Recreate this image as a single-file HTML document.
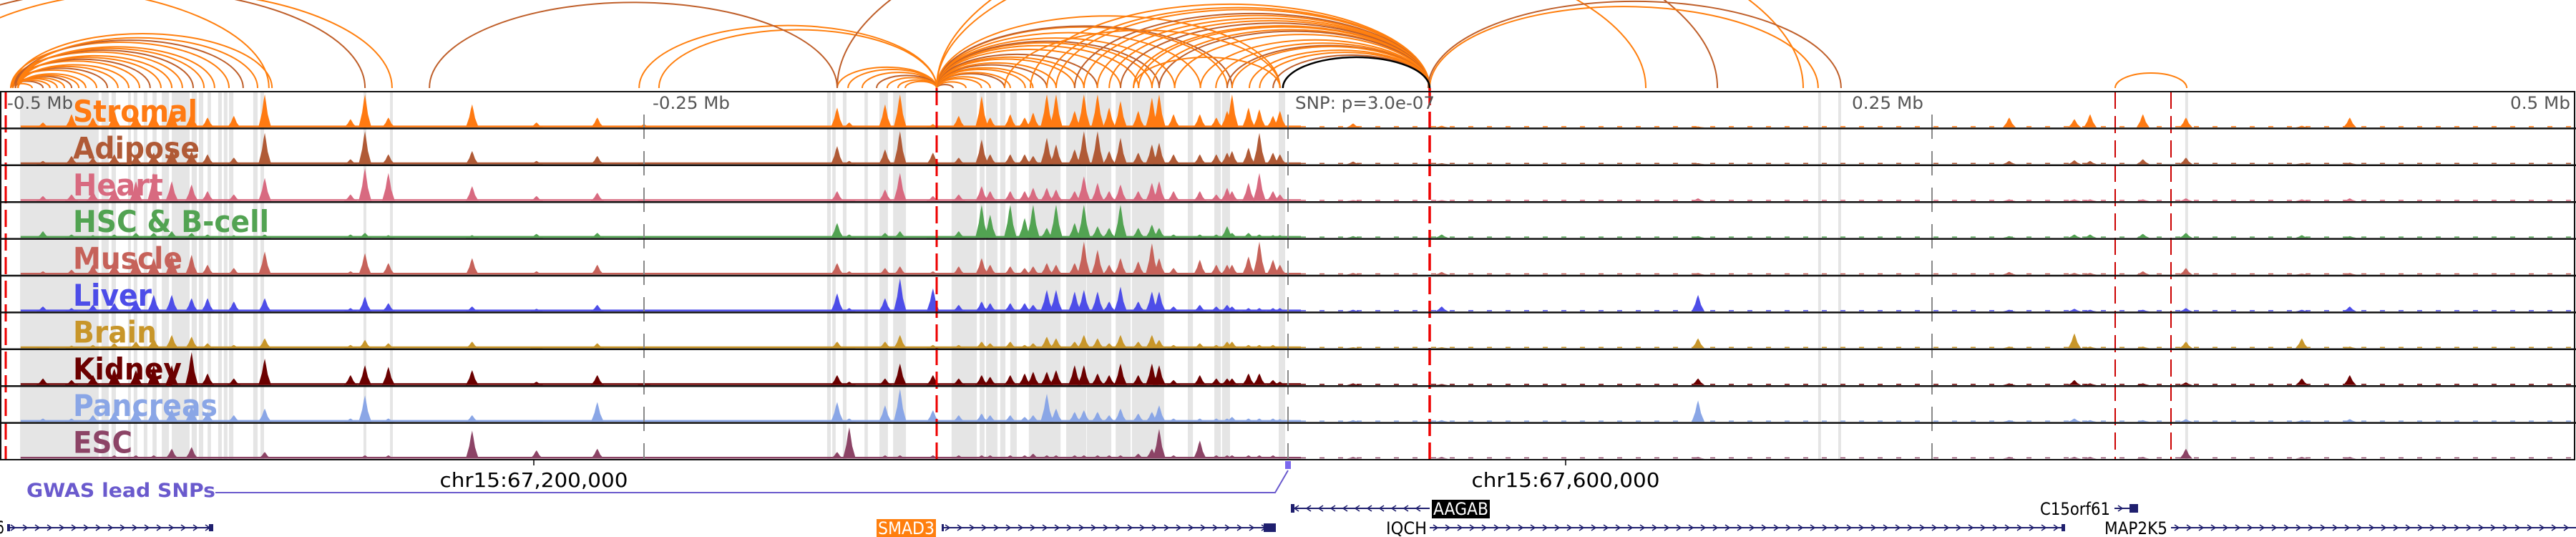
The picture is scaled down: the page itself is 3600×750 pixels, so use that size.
<!DOCTYPE html>
<html><head><meta charset="utf-8"><title>Genome browser chr15 SMAD3 locus</title>
<style>
html,body{margin:0;padding:0;background:#fff;}
svg{display:block;font-family:"DejaVu Sans","Liberation Sans",sans-serif;}
</style></head>
<body>
<svg id="fig" width="3600" height="750" viewBox="0 0 3600 750" xmlns="http://www.w3.org/2000/svg">
  <g id="bands"></g>
  <g id="signals"></g>
  <g id="arcs"></g>
  <g id="vlines"></g>
  <g id="frame"></g>
  <g id="labels"></g>
  <g id="axis">
    <text x="10" y="152" font-size="24" fill="#555" textLength="92" lengthAdjust="spacingAndGlyphs">-0.5 Mb</text>
    <text x="912" y="152" font-size="24" fill="#555" textLength="108" lengthAdjust="spacingAndGlyphs">-0.25 Mb</text>
    <text x="1810" y="152" font-size="24" fill="#555" textLength="195" lengthAdjust="spacingAndGlyphs">SNP: p=3.0e-07</text>
    <text x="2688" y="152" font-size="24" fill="#555" text-anchor="end" textLength="100" lengthAdjust="spacingAndGlyphs">0.25 Mb</text>
    <text x="3592" y="152" font-size="24" fill="#555" text-anchor="end" textLength="84" lengthAdjust="spacingAndGlyphs">0.5 Mb</text>
    <line x1="746" y1="642" x2="746" y2="650" stroke="#000" stroke-width="1.5"/>
    <line x1="2188" y1="642" x2="2188" y2="650" stroke="#000" stroke-width="1.5"/>
    <text x="746" y="680" font-size="28" text-anchor="middle" textLength="263" lengthAdjust="spacingAndGlyphs">chr15:67,200,000</text>
    <text x="2188" y="680" font-size="28" text-anchor="middle" textLength="263" lengthAdjust="spacingAndGlyphs">chr15:67,600,000</text>
  </g>
  <g id="gwas">
    <text x="37" y="694" font-size="27" font-weight="bold" fill="#6a5acd" textLength="264" lengthAdjust="spacingAndGlyphs">GWAS lead SNPs</text>
    <polyline points="301,688 1782,688 1800,657" fill="none" stroke="#6a5acd" stroke-width="2"/>
    <rect x="1796" y="644" width="8" height="11" fill="#7b68ee"/>
  </g>
  <g id="genes"></g>
</svg>
<script>
// ---------- data ----------
const peakPositionsKb = [-483.3,-472.2,-463.9,-455.6,-447.2,-440.3,-433.3,-425.6,-419.4,-409.2,-397.2,-363.9,-358.3,-349.2,-316.7,-291.7,-268.1,-250,-175,-170.3,-156.4,-150.6,-137.8,-127.8,-118.9,-115.6,-107.8,-102.2,-98.9,-93.6,-90,-82.8,-79.2,-73.9,-69.4,-65,-58.1,-52.8,-50,-44.4,-34.2,-27.8,-23.6,-21.7,-15.3,-11.1,-5.8,-3.1,25.3,59.7,159.2,280,305.3,311.4,331.9,348.6,393.6,412.2];
const stromal  = [.15,.4,.3,.5,.4,.5,.6,.45,.3,.35,1,.25,1,.3,.7,.15,.3,.1,.6,.15,.7,1,.1,.35,.95,.3,.4,.3,.45,1,1,.5,1,1,.6,.8,.5,.9,1,.4,.4,.3,.5,1,.6,.55,.35,.5,.12,.05,.03,.3,.25,.4,.4,.3,.05,.3];
const adipose  = [.1,.25,.2,.3,.3,.35,.5,.4,.3,.2,.95,.15,1,.3,.4,.1,.25,.05,.55,.1,.45,1,.35,.2,.75,.3,.3,.3,.25,.8,.6,.45,1,1,.4,.8,.35,.6,.65,.3,.3,.3,.35,.4,.5,.95,.35,.3,.08,.03,.03,.1,.12,.1,.15,.2,.03,.05];
const heart    = [.15,.2,.3,.4,.6,.85,.6,.5,.3,.2,.7,.2,1,.85,.45,.15,.25,.05,.3,.05,.35,.85,.15,.2,.45,.3,.3,.3,.4,.4,.35,.3,.75,.55,.3,.5,.3,.55,.6,.3,.3,.2,.4,.3,.55,.85,.3,.2,.03,.03,.08,.05,.05,.05,.05,.08,.05,.08];
const hsc      = [.2,.1,.08,.1,.15,.15,.2,.15,.1,.08,.1,.1,.15,.08,.08,.12,.15,.05,.45,.1,.15,.2,.05,.2,1,.7,1,.6,1,.3,1,.45,1,.35,.3,1,.3,.4,.3,.1,.1,.1,.35,.15,.15,.1,.08,.08,.05,.1,.05,.05,.1,.1,.12,.15,.08,.05];
const muscle   = [.1,.15,.3,.35,.5,.5,.6,.6,.3,.2,.7,.1,.65,.35,.5,.1,.3,.05,.35,.1,.2,.25,.1,.25,.5,.3,.25,.2,.25,.35,.3,.35,1,.75,.3,.5,.4,.95,.5,.2,.45,.3,.3,.3,.55,1,.45,.3,.05,.08,.05,.08,.05,.05,.1,.2,.03,.05];
const liver    = [.15,.1,.2,.25,.35,.5,.5,.4,.4,.3,.4,.1,.45,.25,.15,.08,.2,.05,.55,.1,.4,1,.7,.2,.3,.25,.25,.25,.2,.65,.65,.6,.65,.6,.3,.75,.3,.6,.6,.15,.2,.15,.2,.15,.1,.1,.1,.1,.05,.15,.5,.05,.08,.05,.05,.1,.05,.15];
const brain    = [.05,.08,.1,.15,.2,.3,.4,.35,.15,.1,.3,.1,.25,.15,.2,.05,.15,.05,.2,.05,.2,.4,.1,.1,.2,.15,.2,.1,.15,.35,.3,.2,.4,.3,.15,.4,.2,.4,.25,.1,.15,.1,.2,.2,.1,.1,.1,.05,.03,.03,.3,.05,.45,.05,.05,.2,.3,.05];
const kidney   = [.2,.15,.3,.5,.45,.6,.6,1,.35,.2,.8,.3,.6,.55,.45,.1,.3,.05,.3,.1,.2,.65,.3,.2,.3,.25,.3,.35,.4,.4,.45,.6,.6,.35,.3,.65,.3,.65,.6,.15,.3,.2,.2,.2,.35,.35,.15,.1,.05,.03,.2,.05,.15,.05,.05,.08,.2,.3];
const pancreas = [.1,.1,.2,.3,.4,.45,.4,.5,.3,.2,.4,.1,.8,.1,.2,.05,.6,.05,.6,.1,.5,1,.35,.2,.25,.2,.2,.15,.2,.85,.4,.3,.35,.3,.2,.4,.25,.3,.5,.1,.1,.1,.1,.15,.1,.1,.1,.08,.05,.05,.65,.05,.1,.05,.05,.08,.05,.08];
const esc      = [.05,.05,.05,.1,.1,.1,.3,.35,.05,.05,.2,.05,.1,.1,.85,.25,.3,.05,.2,.95,.1,.1,.1,.1,.1,.1,.1,.1,.15,.1,.1,.1,.1,.1,.1,.1,.15,.3,.9,.1,.55,.1,.1,.1,.1,.1,.1,.05,.05,.05,.05,.05,.05,.05,.05,.3,.05,.05];
const trackNames = ["Stromal","Adipose","Heart","HSC & B-cell","Muscle","Liver","Brain","Kidney","Pancreas","ESC"];
const trackSeries = [stromal,adipose,heart,hsc,muscle,liver,brain,kidney,pancreas,esc];

const bandStartKb = [-492.2,-460.6,-456.7,-450.3,-448.1,-444.2,-440.8,-437.2,-433.3,-425.6,-422.8,-419.4,-415.3,-413.1,-411.1,-401.7,-398.9,-358.9,-348.6,-178.9,-176.9,-172.8,-164.4,-158.6,-153.3,-130.6,-119.7,-117.2,-111.7,-107.8,-100.6,-86.1,-78.1,-66.9,-60.6,-38.9,-28.6,-25.6,-3.6,205.8,213.6,348.3];
const bandEndKb   = [-461.7,-457.8,-455,-449.2,-446.7,-442.8,-439.2,-434.4,-426.4,-423.6,-421.1,-418.1,-413.9,-411.7,-409.4,-400,-397.5,-357.8,-347.5,-177.5,-175.6,-171.4,-163.1,-155.3,-148.3,-120.8,-117.8,-112.8,-109.7,-105.3,-88.3,-78.3,-68.6,-61.1,-48.1,-36.9,-26.1,-22.5,-1.1,206.9,214.7,349.4];

const arcStartKb = [-495.8,-495.8,-495,-495,-494,-494,-493,-493,-495.8,-495,-494,-493,-495.8,-495,-494,-493,-495.8,-495,-494,-493,-495.8,-494,-493,-495,
  -583.3,-541.7,-527.8,-251.9,-244.2,-333.3,
  -175,-170.8,-165.3,-159.7,-155.6,-151.4,-148.6,
  -136.4,-136.4,-136.4,-136.4,-136.4,-136.4,-136.4,-136.4,-136.4,-136.4,-136.4,-136.4,-136.4,-136.4,-136.4,-136.4,-136.4,-136.4,-136.4,-136.4,-136.4,-136.4,
  -93.6,-90,-82.8,-79.2,-74,-69.4,-65,-60,-58,-52.8,-50,-44,-34,-28,-23.6,-21.7,-15,-11,-5.8,-100,
  -110,-60,-175,-136.4,-136.4,
  55,54.4,321.1];
const arcEndKb = [-487.5,-483.3,-480.6,-477.8,-475,-472.2,-469.4,-466.7,-462.5,-458.3,-454.2,-450,-445.8,-441.7,-437.5,-433.3,-429.2,-425,-420.8,-416.7,-411.1,-405.6,-400,-394.4,
  -395.6,-358.3,-347.8,-136.4,-136.4,-175,
  -136.4,-136.4,-136.4,-136.4,-136.4,-136.4,-136.4,
  -130,-125,-119,-115.6,-110,-107.8,-102,-99,-93.6,-90,-82.8,-79.2,-74,-65,-58,-52.8,-50,-44,-34,-23.6,-21.7,-3.1,
  55,55,55,55,55,55,55,55,55,55,55,55,55,55,55,55,55,55,55,55,
  -3.1,-3.1,166.7,138.9,200,
  205.8,214.7,348.9];
const blackArcStartKb = -2;
const blackArcEndKb = 55;

// ---------- layout ----------
const NS = "http://www.w3.org/2000/svg";
const X0 = 1800, PX_PER_KB = 3.6;
const xScale = kb => X0 + kb * PX_PER_KB;
const TRACK_TOP = 128, TRACK_H = 51.4, TRACK_BOTTOM = TRACK_TOP + TRACK_H * 10;
const ARC_BASE = 123, ARC_RATIO = 0.42;
const PEAK_HW = 9, MAX_PEAK = 46;
const trackColors = ["#ff7a12","#b05a36","#d86a80","#52a352","#c6625a","#4d4de8","#c8962a","#6b0000","#8aa6e6","#8c4466"];
const labelWidths = [174,177,126,274,153,110,117,152,202,83];

function el(tag, attrs, parent){
  const e = document.createElementNS(NS, tag);
  for (const k in attrs) e.setAttribute(k, attrs[k]);
  parent.appendChild(e);
  return e;
}

// bands
const bandsG = document.getElementById("bands");
bandStartKb.forEach((s,i)=>{
  const x1 = xScale(s), x2 = xScale(bandEndKb[i]);
  const r = el("rect",{x:x1,y:TRACK_TOP,width:Math.max(2,x2-x1),height:TRACK_BOTTOM-TRACK_TOP,fill:"#e5e5e5"},bandsG);
  
  
});

// signal tracks
const sigG = document.getElementById("signals");
trackSeries.forEach((series,t)=>{
  const g = el("g",{},sigG);
  
  
  const base = TRACK_TOP + TRACK_H*(t+1) - 1.5;
  const col = trackColors[t];
  const fl = el("rect",{x:xScale(-492),y:base-2.5,width:xScale(5)-xScale(-492),height:2.5,fill:col},g);
  
  
  const fr = el("line",{x1:xScale(5),y1:base-1,x2:3595,y2:base-1,stroke:col,"stroke-width":1.5,"stroke-dasharray":"7 19"},g);
  
  
  series.forEach((v,i)=>{
    const x = xScale(peakPositionsKb[i]);
    const h = v*MAX_PEAK;
    const pts = [[x-PEAK_HW,base],[x-PEAK_HW*0.75,base-h*0.2],[x-PEAK_HW*0.45,base-h*0.45],[x-PEAK_HW*0.2,base-h*0.8],[x,base-h],[x+PEAK_HW*0.2,base-h*0.75],[x+PEAK_HW*0.45,base-h*0.4],[x+PEAK_HW*0.75,base-h*0.18],[x+PEAK_HW,base]];
    const p = el("polygon",{points:pts.map(q=>q.join(",")).join(" "),fill:col},g);
    
    
  });
});

// arcs
const arcG = document.getElementById("arcs");
function arcPath(s,e){
  const x1 = xScale(s), x2 = xScale(e);
  const half = Math.abs(x2-x1)/2, h = half*ARC_RATIO;
  return `M${x1},${ARC_BASE} A${half},${h} 0 0 1 ${x2},${ARC_BASE}`;
}
const clip = el("clipPath",{id:"arcclip"},arcG);
el("rect",{x:0,y:0,width:3600,height:ARC_BASE+1},clip);
const arcInner = el("g",{"clip-path":"url(#arcclip)"},arcG);
arcStartKb.forEach((s,i)=>{
  const a = el("path",{d:arcPath(s,arcEndKb[i]),fill:"none",stroke:(i%4===1)?"#bf5f2a":"#ff7f0e","stroke-width":2},arcInner);
  
  
});
const ba = el("path",{d:arcPath(blackArcStartKb,blackArcEndKb),fill:"none",stroke:"#000","stroke-width":2.5},arcInner);



// vertical marker lines
const vG = document.getElementById("vlines");
function vline(x,y1,col,w,dash,name){
  const l = el("line",{x1:x,y1:y1,x2:x,y2:TRACK_BOTTOM,stroke:col,"stroke-width":w,"stroke-dasharray":dash},vG);
  
  
}
vline(900,160,"#888",2,"34 17","gray-dashed-tick-line");
vline(1800,160,"#888",2,"34 17","gray-dashed-tick-line");
vline(2700,160,"#888",2,"34 17","gray-dashed-tick-line");
vline(8,128,"#ee0000",3,"24 9","red-dashed-snp-line");
vline(1309,123,"#ee0000",3,"24 9","red-dashed-snp-line");
vline(1998,123,"#ee0000",3.5,"24 9","red-dashed-snp-line");
vline(2956,128,"#cc0000",2,"24 10","darkred-dashed-snp-line");
vline(3034,128,"#cc0000",2,"24 10","darkred-dashed-snp-line");

// frame
const fG = document.getElementById("frame");
const frm = el("rect",{x:1,y:TRACK_TOP,width:3597,height:TRACK_BOTTOM-TRACK_TOP,fill:"none",stroke:"#111","stroke-width":2},fG);


for(let t=1;t<10;t++){
  const y = TRACK_TOP + TRACK_H*t;
  const s = el("line",{x1:0,y1:y,x2:3600,y2:y,stroke:"#111","stroke-width":2.5},fG);
  
  
}

// labels
const lG = document.getElementById("labels");
trackNames.forEach((n,t)=>{
  const tx = el("text",{x:102,y:TRACK_TOP+TRACK_H*t+42,"font-size":42,"font-weight":"bold",fill:trackColors[t],textLength:labelWidths[t],lengthAdjust:"spacingAndGlyphs"},lG);
  tx.textContent = n;
  
  
});

// genes
const gG = document.getElementById("genes");
const NAVY = "#1f1f6e";
function geneLine(x1,x2,y,dir,name){
  const g = el("g",{},gG);
  
  
  el("line",{x1:x1,y1:y,x2:x2,y2:y,stroke:NAVY,"stroke-width":2},g);
  for(let x=x1+8;x<x2-6;x+=17){
    const d = dir>0 ? `M${x-3},${y-4} L${x+3},${y} L${x-3},${y+4}` : `M${x+3},${y-4} L${x-3},${y} L${x+3},${y+4}`;
    el("path",{d:d,fill:"none",stroke:NAVY,"stroke-width":1.6},g);
  }
  return g;
}
function box(x,y,w,h,name){
  const b = el("rect",{x:x,y:y,width:w,height:h,fill:NAVY},gG);
  
  
}
function glabel(x,y,txt,w,fill,bg,name){
  if(bg){
    const r = el("rect",{x:x-2,y:y-21,width:w+4,height:26,fill:bg},gG);
    
    
  }
  const t = el("text",{x:x,y:y,"font-size":24,fill:fill,textLength:w,lengthAdjust:"spacingAndGlyphs"},gG);
  t.textContent = txt;
  
  
}
const R1 = 710, R2 = 737;
glabel(-6,R2+8,"6",12,"#000",null,"gene-label-cut");
geneLine(10,298,R2,1,"gene-left");
box(10,R2-5,4,10,"gene-exon");
box(292,R2-5,6,10,"gene-exon");
glabel(1227,R2+9,"SMAD3",79,"#fff","#ff7f0e","gene-label-smad3");
geneLine(1316,1783,R2,1,"gene-smad3");
box(1316,R2-5,3,10,"gene-exon");
box(1766,R2-6,17,12,"gene-exon");
geneLine(1804,1998,R1,-1,"gene-aagab");
box(1804,R1-6,5,12,"gene-exon");
glabel(2003,R1+9,"AAGAB",77,"#fff","#000","gene-label-aagab");
glabel(1937,R2+9,"IQCH",57,"#000",null,"gene-label-iqch");
geneLine(1998,2886,R2,1,"gene-iqch");
box(2881,R2-5,5,10,"gene-exon");
glabel(2851,R1+9,"C15orf61",98,"#000",null,"gene-label-c15orf61");
geneLine(2955,2988,R1,1,"gene-c15orf61");
box(2976,R1-6,12,12,"gene-exon");
glabel(2941,R2+9,"MAP2K5",88,"#000",null,"gene-label-map2k5");
geneLine(3034,3600,R2,1,"gene-map2k5");
</script>
</body></html>
